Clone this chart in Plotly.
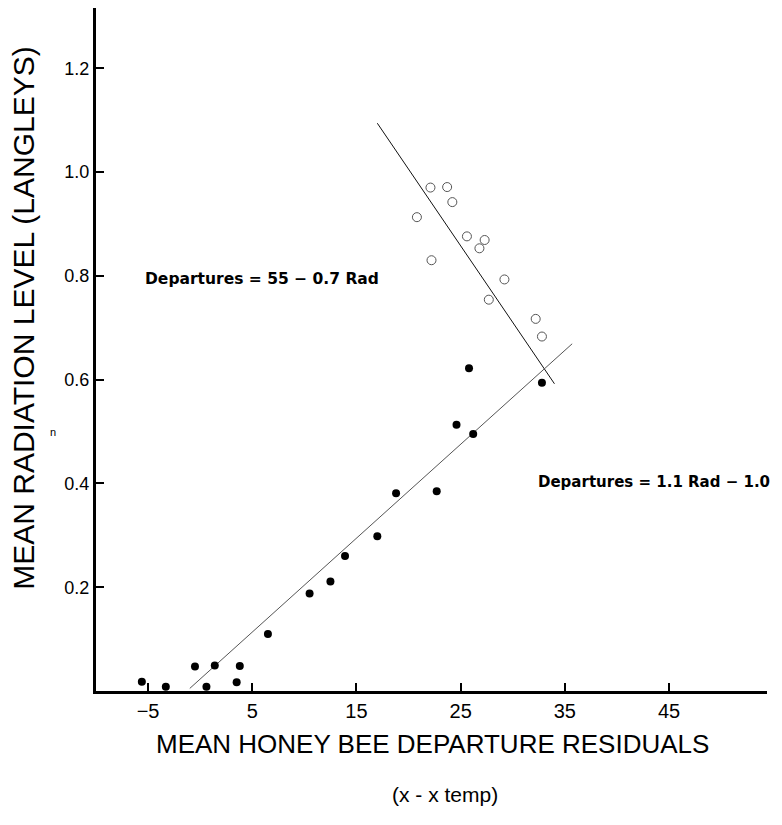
import plotly.graph_objects as go

# Data
filled_x = [-5.6, -3.3, -0.5, 0.6, 1.4, 3.5, 3.8, 6.5, 10.5, 12.5, 13.9, 17.0, 18.8, 22.7, 24.6, 26.2, 25.8, 32.8]
filled_y = [0.018, 0.008, 0.047, 0.008, 0.049, 0.017, 0.048, 0.110, 0.188, 0.211, 0.260, 0.298, 0.381, 0.385, 0.513, 0.495, 0.622, 0.594]

open_x = [22.1, 23.7, 24.2, 20.8, 25.6, 27.3, 26.8, 22.2, 29.2, 27.7, 32.2, 32.8]
open_y = [0.970, 0.971, 0.942, 0.913, 0.876, 0.869, 0.853, 0.830, 0.793, 0.754, 0.717, 0.683]

fit_high_x = [17.0, 34.0]
fit_high_y = [1.094, 0.592]
fit_low_x = [-1.0, 35.7]
fit_low_y = [0.005, 0.669]

x_ticks = [-5, 5, 15, 25, 35, 45]
x_tick_text = ["\u22125", "5", "15", "25", "35", "45"]
y_ticks = [0.2, 0.4, 0.6, 0.8, 1.0, 1.2]
y_tick_text = ["0.2", "0.4", "0.6", "0.8", "1.0", "1.2"]

AX_FONT = "Liberation Sans, Arial, sans-serif"
EQ_FONT = "DejaVu Sans, Verdana, sans-serif"

fig = go.Figure()
fig.add_trace(go.Scatter(x=fit_high_x, y=fit_high_y, mode="lines",
                         line=dict(color="#111", width=1), showlegend=False))
fig.add_trace(go.Scatter(x=fit_low_x, y=fit_low_y, mode="lines",
                         line=dict(color="#555", width=1), showlegend=False))
fig.add_trace(go.Scatter(x=open_x, y=open_y, mode="markers",
                         marker=dict(symbol="circle-open", size=9, color="#555", line=dict(width=1)),
                         showlegend=False, cliponaxis=False))
fig.add_trace(go.Scatter(x=filled_x, y=filled_y, mode="markers",
                         marker=dict(symbol="circle", size=8, color="black"),
                         showlegend=False, cliponaxis=False))

# The page body has an 8px margin; the figure is sized to fit inside the window without scrollbars.
fig.update_layout(
    width=766, height=809,
    margin=dict(l=88, r=7, t=0, b=126),
    paper_bgcolor="white", plot_bgcolor="white",
    xaxis=dict(range=[-10, 54.4], tickvals=x_ticks, ticktext=x_tick_text,
               ticks="inside", ticklen=8, tickwidth=2, tickcolor="black",
               showline=True, linecolor="black", linewidth=3, showgrid=False, zeroline=False,
               tickfont=dict(family=AX_FONT, size=20, color="black")),
    yaxis=dict(range=[0, 1.316], tickvals=y_ticks, ticktext=y_tick_text,
               ticks="inside", ticklen=8, tickwidth=2, tickcolor="black",
               showline=True, linecolor="black", linewidth=3, showgrid=False, zeroline=False,
               ticklabelstandoff=0,
               tickfont=dict(family=AX_FONT, size=18, color="black")),
)

annos = [
    dict(text="MEAN RADIATION LEVEL (LANGLEYS)", x=-0.1073, y=0.545, textangle=-90,
         font=dict(family=AX_FONT, size=30, color="black"), xanchor="center", yanchor="middle"),
    dict(text="MEAN HONEY BEE DEPARTURE RESIDUALS", x=0.502, y=-0.078,
         font=dict(family=AX_FONT, size=26, color="black"), xanchor="center", yanchor="middle"),
    dict(text="(x - x temp)", x=0.52, y=-0.152,
         font=dict(family=AX_FONT, size=21, color="black"), xanchor="center", yanchor="middle"),
    dict(text="Departures = 55 \u2212 0.7 Rad", x=0.070, y=0.603,
         font=dict(family=EQ_FONT, size=15.5, color="black", weight="bold"), xanchor="left", yanchor="middle"),
    dict(text="Departures = 1.1 Rad \u2212 1.0", x=1.0075, y=0.3064,
         font=dict(family=EQ_FONT, size=15, color="black", weight="bold"), xanchor="right", yanchor="middle"),
    dict(text="n", x=-0.064, y=0.379,
         font=dict(family=AX_FONT, size=11, color="black"), xanchor="center", yanchor="middle"),
]
for a in annos:
    a.update(xref="paper", yref="paper", showarrow=False)
    fig.add_annotation(**a)

fig.write_html("out.html")
